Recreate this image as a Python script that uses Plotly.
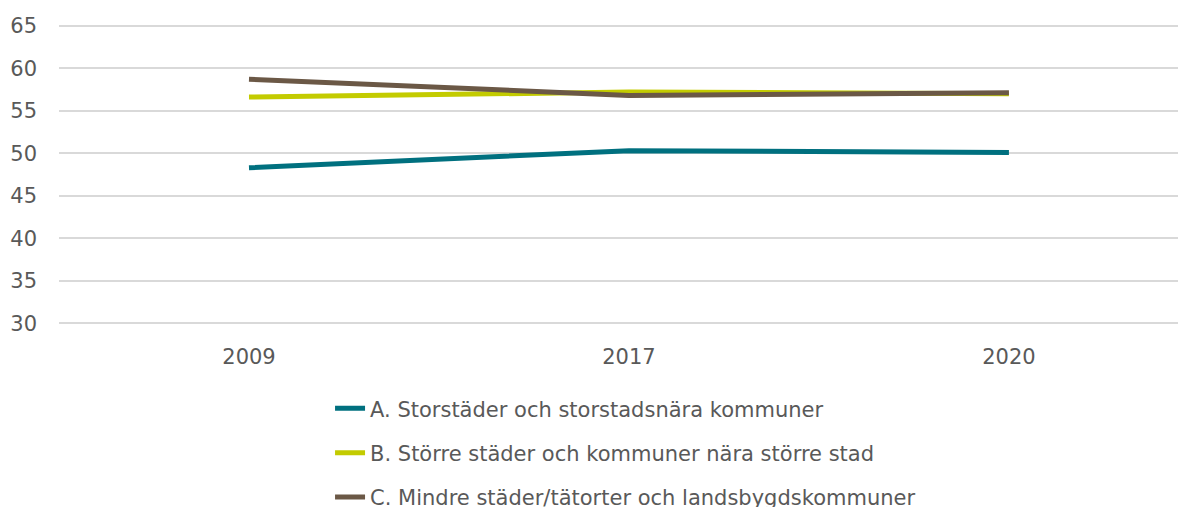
import plotly.graph_objects as go

years = ["2009", "2017", "2020"]
series_names = [
    "A. Storstäder och storstadsnära kommuner",
    "B. Större städer och kommuner nära större stad",
    "C. Mindre städer/tätorter och landsbygdskommuner",
]
values_a = [48.3, 50.3, 50.1]
values_b = [56.6, 57.2, 57.0]
values_c = [58.7, 56.8, 57.1]
colors = ["#00707F", "#C3CB00", "#6B5846"]
y_ticks = [30, 35, 40, 45, 50, 55, 60, 65]

FONT = "DejaVu Sans"
FS = 21

fig = go.Figure()
for name, vals, col in zip(series_names, [values_a, values_b, values_c], colors):
    fig.add_trace(go.Scatter(
        x=years, y=vals, mode="lines", name=name, legendgroup=name,
        line=dict(color=col, width=5),
    ))

fig.update_layout(
    width=1178, height=499,
    margin=dict(l=51, r=0, t=16, b=182, autoexpand=False),
    paper_bgcolor="white", plot_bgcolor="white",
    font=dict(family=FONT, size=FS, color="#595959"),
    showlegend=True,
    legend=dict(
        orientation="v", x=0.2405, xanchor="left", y=-0.21, yanchor="top",
        font=dict(family=FONT, size=FS, color="#595959"), traceorder="grouped",
        tracegroupgap=14, bgcolor="rgba(0,0,0,0)",
    ),
    xaxis=dict(
        type="category", range=[-0.5, 2.466], showgrid=False, zeroline=False,
        showline=False, ticks="", ticklabelstandoff=17, automargin=False,
        tickfont=dict(family=FONT, size=FS, color="#595959"),
    ),
    yaxis=dict(
        range=[29.8, 65.2], tickvals=y_ticks, showgrid=True, gridcolor="#D9D9D9",
        gridwidth=1.5, zeroline=False, showline=False, ticks="", automargin=False,
        ticklabelstandoff=21, tickfont=dict(family=FONT, size=FS, color="#595959"),
    ),
)

fig.write_html("out.html")
